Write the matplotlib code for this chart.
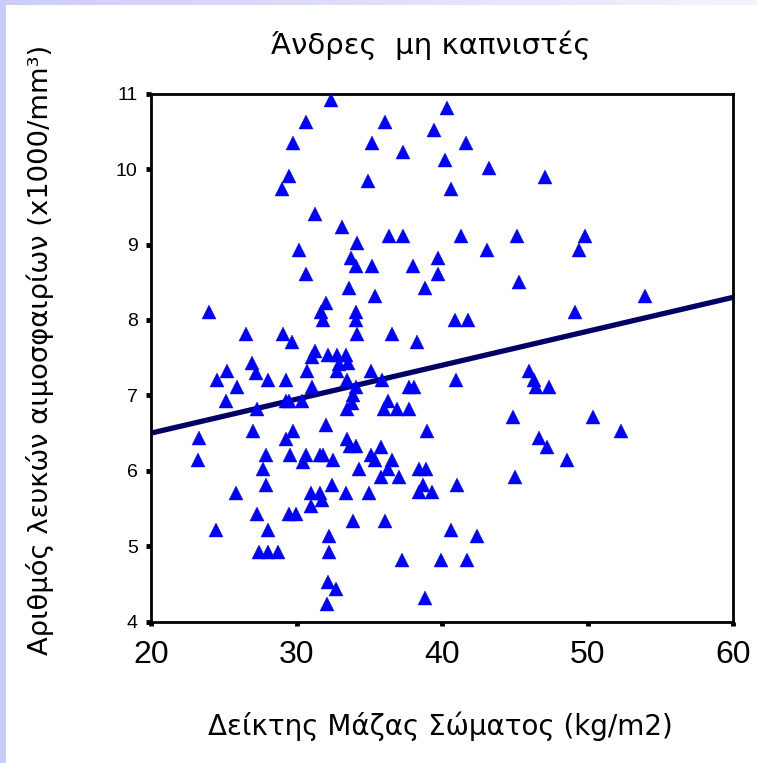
import numpy as np
import matplotlib
matplotlib.use("Agg")
import matplotlib.pyplot as plt
from matplotlib.patches import Rectangle
from matplotlib.colors import LinearSegmentedColormap

# ---- data ----
bmi = [32.4, 30.63, 36.1, 39.45, 29.78, 35.17, 37.35, 29.5, 28.98, 34.88,
       31.3, 33.1, 36.38, 37.35, 34.17, 30.2, 33.75, 34.09, 35.17, 38.03,
       39.75, 30.63, 39.7, 33.63, 38.83, 35.4, 24.0, 32.0, 31.7, 31.85,
       34.09, 34.09, 26.5, 29.1, 29.67, 34.17, 36.53, 38.3,
       40.37, 41.63, 40.2, 43.25, 47.08, 40.64, 41.33, 45.18, 49.85, 43.11,
       49.42, 45.31, 53.97, 49.15, 40.9, 41.77,
       31.27, 31.05, 32.19, 32.76, 33.4, 33.57, 32.9, 32.76, 26.92, 25.24,
       27.2, 24.56, 28.02, 29.25, 30.7, 25.93, 31.05, 33.45, 34.09, 35.12,
       35.9, 37.76, 38.1, 33.9, 25.15, 29.26, 29.48, 30.36, 33.83, 36.27,
       27.3, 33.5, 35.99, 36.9, 37.75, 32.0, 27.03, 29.78, 38.99, 23.32,
       29.25, 33.48, 33.67, 34.09, 35.79, 27.87, 29.55, 30.63, 30.47, 31.6,
       31.8, 32.53, 35.12, 35.4, 36.54, 23.2, 27.71, 34.31, 36.31, 38.44,
       38.9, 35.84, 37.05, 27.87, 32.42, 38.67, 25.82, 30.98, 31.6, 33.37,
       35.0, 38.44, 39.3, 31.73, 31.0, 27.3, 29.48, 29.94, 33.9, 36.1,
       24.45, 28.03, 32.25, 27.43, 28.03, 28.72, 32.25, 37.23, 39.93, 32.19,
       32.7, 32.1, 38.83,
       40.94, 46.0, 46.3, 46.45, 47.35, 44.9, 50.4, 52.3, 46.67, 47.24,
       48.6, 45.04, 41.05, 40.64, 42.43, 41.74]
wbc = [10.91, 10.62, 10.62, 10.52, 10.34, 10.34, 10.23, 9.91, 9.73, 9.84,
       9.41, 9.23, 9.12, 9.12, 9.02, 8.93, 8.82, 8.72, 8.72, 8.72,
       8.82, 8.61, 8.61, 8.42, 8.42, 8.32, 8.11, 8.22, 8.11, 8.0,
       8.11, 8.0, 7.82, 7.82, 7.71, 7.82, 7.82, 7.71,
       10.81, 10.34, 10.12, 10.01, 9.9, 9.73, 9.12, 9.12, 9.12, 8.93,
       8.93, 8.51, 8.32, 8.11, 8.0, 8.0,
       7.59, 7.51, 7.54, 7.54, 7.54, 7.43, 7.42, 7.32, 7.43, 7.32,
       7.30, 7.21, 7.21, 7.21, 7.32, 7.11, 7.11, 7.21, 7.11, 7.32,
       7.21, 7.11, 7.11, 7.01, 6.92, 6.93, 6.93, 6.92, 6.90, 6.92,
       6.82, 6.82, 6.82, 6.82, 6.82, 6.61, 6.53, 6.53, 6.53, 6.43,
       6.42, 6.42, 6.33, 6.33, 6.32, 6.21, 6.21, 6.21, 6.12, 6.21,
       6.21, 6.14, 6.21, 6.14, 6.14, 6.14, 6.02, 6.02, 6.02, 6.02,
       6.02, 5.92, 5.92, 5.81, 5.81, 5.81, 5.71, 5.71, 5.71, 5.71,
       5.71, 5.72, 5.72, 5.62, 5.53, 5.43, 5.43, 5.43, 5.33, 5.33,
       5.22, 5.22, 5.13, 4.93, 4.93, 4.93, 4.93, 4.82, 4.82, 4.53,
       4.43, 4.24, 4.32,
       7.21, 7.32, 7.21, 7.11, 7.11, 6.71, 6.71, 6.53, 6.43, 6.32,
       6.14, 5.92, 5.81, 5.21, 5.13, 4.82]

# regression line (value at x=20 and x=60)
line_x = [20, 60]
line_y = [6.50, 8.30]

x_ticks = [20, 30, 40, 50, 60]
y_ticks = [4, 5, 6, 7, 8, 9, 10, 11]

title = "Άνδρες  μη καπνιστές"
xlabel = "Δείκτης Μάζας Σώματος (kg/m2)"
ylabel = "Αριθμός λευκών αιμοσφαιρίων (x1000/mm³)"

# ---- figure ----
W, H = 757, 763
fig = plt.figure(figsize=(W / 100, H / 100), dpi=100)
fig.patch.set_facecolor("white")

# lavender frame: left strip and top gradient strip
fig.patches.append(Rectangle((0, 0), 6 / W, 1, transform=fig.transFigure,
                             facecolor="#ccccfa", edgecolor="none", zorder=0))
gax = fig.add_axes([0, 1 - 5 / H, 1, 5 / H])
grad = np.linspace(0, 1, 256).reshape(1, -1)
cm = LinearSegmentedColormap.from_list("lav", ["#ccccfa", "#f3f3fe"])
gax.imshow(grad, aspect="auto", cmap=cm, extent=[0, 1, 0, 1])
gax.axis("off")

ax = fig.add_axes([151 / W, 1 - 621.7 / H, (733 - 151) / W, (621.7 - 93.7) / H])
ax.set_xlim(20, 60)
ax.set_ylim(4, 11)

ax.plot(line_x, line_y, color="#000066", lw=3.8, solid_capstyle="butt", zorder=2)
ax.plot(bmi, wbc, linestyle="none", marker="^", markersize=10,
        color="#0000ff", markeredgecolor="#0000ff", markeredgewidth=0.3, zorder=3,
        clip_on=False)

for s in ax.spines.values():
    s.set_linewidth(2.0)
    s.set_color("black")

arial = ["Liberation Sans", "DejaVu Sans"]
ax.set_xticks(x_ticks)
ax.set_yticks(y_ticks)
ax.set_xticklabels([str(v) for v in x_ticks], fontsize=23, family=arial)
ax.set_yticklabels([str(v) for v in y_ticks], fontsize=14, family=arial)
ax.tick_params(axis="x", direction="out", length=3, width=3.5, pad=10, color="black")
ax.tick_params(axis="y", direction="out", length=3.6, width=3.5, pad=6, color="black")

fig.text(431 / W, 1 - 45 / H, title, ha="center", va="center", fontsize=21,
         family=["DejaVu Sans"])
fig.text(440 / W, 1 - 726 / H, xlabel, ha="center", va="center", fontsize=20,
         family=["DejaVu Sans"])
fig.text(40 / W, 1 - 350 / H, ylabel, ha="center", va="center", rotation=90,
         fontsize=19.7, family=["DejaVu Sans"])

fig.savefig("out.png", dpi=100)
